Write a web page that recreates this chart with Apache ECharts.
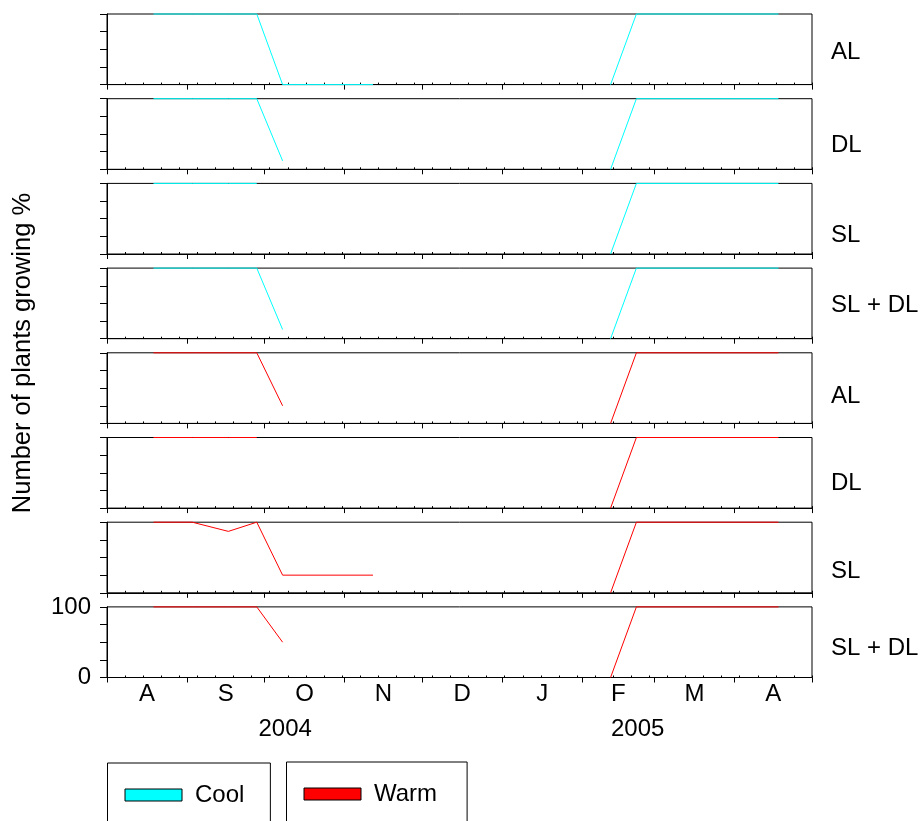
<!DOCTYPE html>
<html>
<head>
<meta charset="utf-8">
<script src="https://cdn.jsdelivr.net/npm/echarts@6/dist/echarts.min.js"></script>
<style>
  html, body { margin: 0; padding: 0; background: #fff; }
  #chart { width: 921px; height: 821px; }
</style>
</head>
<body>
<div id="chart"></div>
<script>
// Time axis: days counted from 1 August 2004
const monthStarts = [0, 31, 61, 92, 122, 153, 184, 212, 243, 273];
const monthLetters = ['A', 'S', 'O', 'N', 'D', 'J', 'F', 'M', 'A'];
const yearLabels = ['2004', '2005'];
const yearDays = [69, 205.5];

// Panel labels (photoperiod treatments), repeated for each temperature
const treatments = ['AL', 'DL', 'SL', 'SL + DL'];
const temperatures = ['Cool', 'Warm'];

// Sampling days in each growing season
const autumnDays = [18, 33, 47, 58, 68, 103];
const springDays = [195, 205, 260];

// Plants growing (%) — cool treatments
const coolAL_autumn = [100, 100, 100, 100, 0, 0];
const coolAL_spring = [0, 100, 100];
const coolDL_autumn = [100, 100, 100, 100, 12, null];
const coolDL_spring = [0, 100, 100];
const coolSL_autumn = [100, 100, 100, 100, null, null];
const coolSL_spring = [0, 100, 100];
const coolSLDL_autumn = [100, 100, 100, 100, 13, null];
const coolSLDL_spring = [0, 100, 100];

// Plants growing (%) — warm treatments
const warmAL_autumn = [100, 100, 100, 100, 25, null];
const warmAL_spring = [0, 100, 100];
const warmDL_autumn = [100, 100, 100, 100, null, null];
const warmDL_spring = [0, 100, 100];
const warmSL_autumn = [100, 100, 87, 100, 25, 25];
const warmSL_spring = [0, 100, 100];
const warmSLDL_autumn = [100, 100, 100, 100, 50, null];
const warmSLDL_spring = [0, 100, 100];

const panels = [
  { temp: 'Cool', autumn: coolAL_autumn, spring: coolAL_spring },
  { temp: 'Cool', autumn: coolDL_autumn, spring: coolDL_spring },
  { temp: 'Cool', autumn: coolSL_autumn, spring: coolSL_spring },
  { temp: 'Cool', autumn: coolSLDL_autumn, spring: coolSLDL_spring },
  { temp: 'Warm', autumn: warmAL_autumn, spring: warmAL_spring },
  { temp: 'Warm', autumn: warmDL_autumn, spring: warmDL_spring },
  { temp: 'Warm', autumn: warmSL_autumn, spring: warmSL_spring },
  { temp: 'Warm', autumn: warmSLDL_autumn, spring: warmSLDL_spring }
];

const colors = { Cool: '#00ffff', Warm: '#ff0000' };
const FONT = '"Liberation Sans", Arial, sans-serif';
const FS = 24;

// layout
const gridLeft = 107, gridRight = 109, firstTop = 14, step = 84.7, panelH = 70.6;
const labelCenters = [52, 145, 235, 305, 396, 483, 571, 648];

const monthMid = monthLetters.map((_, i) => (monthStarts[i] + monthStarts[i + 1]) / 2);

const grids = [], xAxes = [], yAxes = [], series = [], graphics = [];
const last = panels.length - 1;

panels.forEach((p, i) => {
  grids.push({
    left: gridLeft, right: gridRight,
    top: firstTop + i * step, height: panelH,
    show: true, borderColor: '#000', borderWidth: 1,
    backgroundColor: 'transparent'
  });

  const isLast = i === last;
  // month boundary ticks + month letters
  const mainX = xAxes.length;
  xAxes.push({
    type: 'value', gridIndex: i, position: 'bottom', min: 0, max: 273,
    axisLine: { show: true, onZero: false, lineStyle: { color: '#000', width: 1 } },
    axisTick: { show: true, customValues: monthStarts, length: 5, inside: false,
                lineStyle: { color: '#000', width: 1 } },
    axisLabel: {
      show: isLast, customValues: monthMid, margin: 5,
      color: '#000', fontSize: FS, fontFamily: FONT,
      formatter: v => monthLetters[monthMid.indexOf(v)] || ''
    },
    splitLine: { show: false }
  });
  // weekly ticks
  xAxes.push({
    type: 'value', gridIndex: i, position: 'bottom', min: 0, max: 273, interval: 7,
    axisLine: { show: false, onZero: false },
    axisTick: { show: true, length: 2, inside: true, lineStyle: { color: '#000', width: 1 } },
    axisLabel: { show: false },
    splitLine: { show: false }
  });
  if (isLast) {
    // year captions below the months
    xAxes.push({
      type: 'value', gridIndex: i, position: 'bottom', min: 0, max: 273,
      axisLine: { show: false, onZero: false }, axisTick: { show: false },
      splitLine: { show: false },
      axisLabel: {
        show: true, customValues: yearDays, margin: 40,
        color: '#000', fontSize: FS, fontFamily: FONT,
        formatter: v => yearLabels[yearDays.indexOf(v)] || ''
      }
    });
  }

  yAxes.push({
    type: 'value', gridIndex: i, position: 'left', min: 0, max: 100, interval: 25,
    axisLine: { show: true, onZero: false, lineStyle: { color: '#000', width: 1 } },
    axisTick: { show: true, length: 7, lineStyle: { color: '#000', width: 1 } },
    axisLabel: {
      show: isLast, margin: 16, color: '#000', fontSize: FS, fontFamily: FONT,
      formatter: v => (v === 0 || v === 100) ? String(v) : ''
    },
    splitLine: { show: false }
  });

  const lineCommon = {
    type: 'line', name: p.temp, xAxisIndex: mainX, yAxisIndex: i,
    showSymbol: false, symbol: 'none', clip: false, connectNulls: false,
    color: colors[p.temp],
    lineStyle: { color: colors[p.temp], width: 1 },
    itemStyle: { color: colors[p.temp] },
    emphasis: { disabled: true }, z: 5
  };
  series.push(Object.assign({}, lineCommon, {
    data: autumnDays.map((d, k) => [d, p.autumn[k] === null ? '-' : p.autumn[k]])
  }));
  series.push(Object.assign({}, lineCommon, {
    data: springDays.map((d, k) => [d, p.spring[k]])
  }));

  graphics.push({
    type: 'text', x: 831, y: labelCenters[i],
    style: { text: treatments[i % treatments.length], fill: '#000',
             font: FS + 'px ' + FONT, verticalAlign: 'middle' }
  });
});

// y-axis caption shared by all panels
graphics.push({
  type: 'text', x: 23, y: 353, rotation: Math.PI / 2,
  style: { text: 'Number of plants growing %', fill: '#000',
           font: '25.5px ' + FONT, align: 'center', verticalAlign: 'middle' }
});

const legendCommon = {
  orient: 'horizontal', icon: 'rect', itemWidth: 57, itemHeight: 12,
  selectedMode: false, borderColor: '#000', borderWidth: 1,
  itemStyle: { borderColor: '#000', borderWidth: 1 },
  textStyle: { color: '#000', fontSize: FS, fontFamily: FONT, padding: [0, 0, 0, 8] }
};

const chart = echarts.init(document.getElementById('chart'), null, { renderer: 'canvas' });
chart.setOption({
  animation: false,
  backgroundColor: '#fff',
  grid: grids,
  xAxis: xAxes,
  yAxis: yAxes,
  series: series,
  legend: [
    Object.assign({}, legendCommon, { data: [temperatures[0]], left: 107.5, top: 763,
      padding: [20, 26, 40, 17] }),
    Object.assign({}, legendCommon, { data: [temperatures[1]], left: 286.5, top: 762,
      padding: [20, 30, 40, 17] })
  ],
  graphic: graphics
});
</script>
</body>
</html>
